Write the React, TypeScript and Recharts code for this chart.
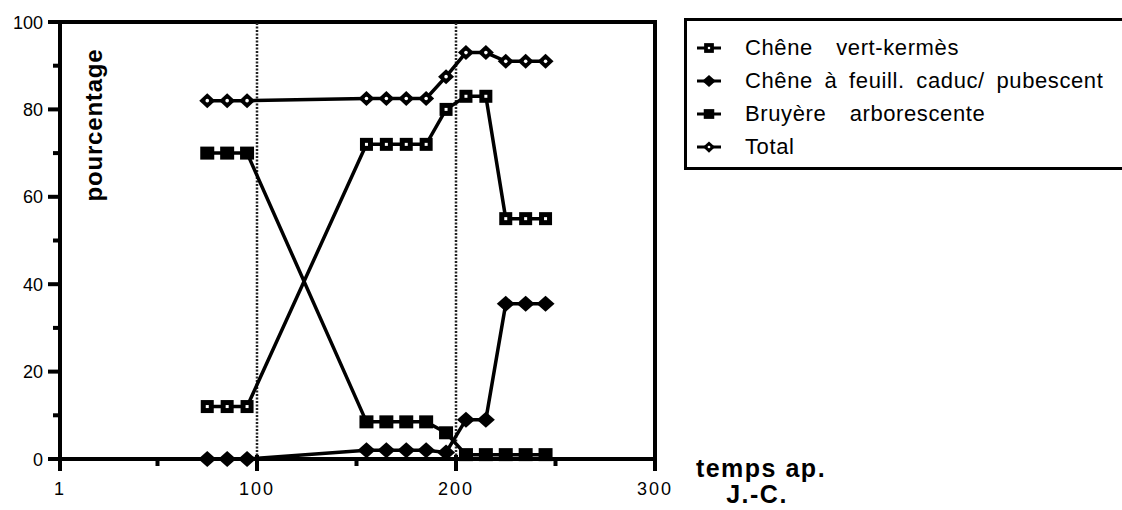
import {
  LineChart,
  Line,
  XAxis,
  YAxis,
  ReferenceLine,
  ReferenceArea,
  Legend,
} from "recharts";

const years = [75, 85, 95, 155, 165, 175, 185, 195, 205, 215, 225, 235, 245];
const cheneVert = [12, 12, 12, 72, 72, 72, 72, 80, 83, 83, 55, 55, 55];
const cheneCaduc = [0, 0, 0, 2, 2, 2, 2, 1.5, 9, 9, 35.5, 35.5, 35.5];
const bruyere = [70, 70, 70, 8.5, 8.5, 8.5, 8.5, 6, 1, 1, 1, 1, 1];
const total = [82, 82, 82, 82.5, 82.5, 82.5, 82.5, 87.5, 93, 93, 91, 91, 91];

const xTicks = [1, 50, 100, 150, 200, 250, 300];
const xMajor = [1, 100, 200, 300];
const yTicks = [0, 10, 20, 30, 40, 50, 60, 70, 80, 90, 100];
const yMajor = [0, 20, 40, 60, 80, 100];
const periods = [100, 200];

const series = [
  { key: "vert", name: "Chêne  vert-kermès", marker: "openSquare" },
  { key: "caduc", name: "Chêne à feuill. caduc/ pubescent", marker: "diamond" },
  { key: "bruyere", name: "Bruyère  arborescente", marker: "square" },
  { key: "total", name: "Total", marker: "dotDiamond" },
];

const data = years.map((year, i) => ({
  year,
  vert: cheneVert[i],
  caduc: cheneCaduc[i],
  bruyere: bruyere[i],
  total: total[i],
}));

const font = "'Liberation Sans', Arial, Helvetica, sans-serif";
const T = 4; // épaisseur du cadre et des graduations

// symbole de chaque série (aussi utilisé dans la légende)
const Marker = ({ kind, cx, cy, s = 1 }) => {
  if (kind === "openSquare") {
    return (
      <g>
        <rect x={cx - 6.5 * s} y={cy - 6.5 * s} width={13 * s} height={13 * s} fill="#000" />
        <rect x={cx - 1.5 * s} y={cy - 1.5 * s} width={3 * s} height={3 * s} fill="#fff" />
      </g>
    );
  }
  if (kind === "square") {
    return <rect x={cx - 7 * s} y={cy - 6.5 * s} width={14 * s} height={13 * s} fill="#000" />;
  }
  if (kind === "diamond") {
    return (
      <polygon
        points={`${cx},${cy - 8 * s} ${cx + 9 * s},${cy} ${cx},${cy + 8 * s} ${cx - 9 * s},${cy}`}
        fill="#000"
      />
    );
  }
  return (
    <g>
      <polygon
        points={`${cx},${cy - 7.5 * s} ${cx + 8 * s},${cy} ${cx},${cy + 7.5 * s} ${cx - 8 * s},${cy}`}
        fill="#000"
      />
      <circle cx={cx} cy={cy} r={1.8 * s} fill="#fff" />
    </g>
  );
};

const renderDot = (kind) => (props) => {
  const { cx, cy, index } = props;
  if (cx == null || cy == null) return <g key={`${kind}-${index}`} />;
  return <Marker key={`${kind}-${index}`} kind={kind} cx={cx} cy={cy} />;
};

// cadre du graphique en rectangles pleins
const Frame = (props) => {
  const { x, y, width, height } = props;
  return (
    <g fill="#000">
      <rect x={x - T / 2} y={y - T / 2} width={width + T} height={T} />
      <rect x={x - T / 2} y={y + height - T / 2} width={width + T} height={T} />
      <rect x={x - T / 2} y={y - T / 2} width={T} height={height + T} />
      <rect x={x + width - T / 2} y={y - T / 2} width={T} height={height + T} />
    </g>
  );
};

const XTick = (props) => {
  const { x, y, payload } = props;
  const major = xMajor.includes(payload.value);
  return (
    <g>
      <rect x={x - T / 2} y={major ? y - 4 : y} width={T} height={major ? 16 : 7} fill="#000" />
      {major && (
        <text x={x} y={y + 36} textAnchor="middle" fontSize={18} letterSpacing={2} fontFamily={font} fill="#000">
          {payload.value}
        </text>
      )}
    </g>
  );
};

const YTick = (props) => {
  const { x, y, payload } = props;
  const major = yMajor.includes(payload.value);
  return (
    <g>
      <rect x={major ? x - 12 : x - 7} y={y - T / 2} width={major ? 12 : 7} height={T} fill="#000" />
      {major && (
        <text x={x - 17} y={y + 6.5} textAnchor="end" fontSize={18} fontFamily={font} fill="#000">
          {payload.value}
        </text>
      )}
    </g>
  );
};

const XLabel = ({ viewBox }) => {
  const cx = viewBox.x + viewBox.width + 106;
  return (
    <g>
      <text x={cx} y={viewBox.y + 18} textAnchor="middle" letterSpacing={1.5}
        fontFamily={font} fontWeight="bold" fontSize={25} fill="#000">
        temps ap.
      </text>
      <text x={cx - 4} y={viewBox.y + 44} textAnchor="middle" letterSpacing={1.5}
        fontFamily={font} fontWeight="bold" fontSize={25} fill="#000">
        J.-C.
      </text>
    </g>
  );
};

const YLabel = () => (
  <text
    x={102}
    y={125}
    transform="rotate(-90 102 125)"
    textAnchor="middle"
    fontFamily={font}
    fontWeight="bold"
    fontSize={24}
    letterSpacing={0.8}
    fill="#000"
  >
    pourcentage
  </text>
);

const LegendBox = () => (
  <div
    style={{
      boxSizing: "border-box",
      width: 438,
      height: 152,
      borderTop: "3px solid #000",
      borderLeft: "3px solid #000",
      borderBottom: "3px solid #000",
      padding: "10px 0 0 8px",
      fontFamily: font,
      fontSize: 22,
      letterSpacing: 0.6,
      wordSpacing: 5,
      color: "#000",
      background: "#fff",
    }}
  >
    {series.map((s) => (
      <div key={s.key} style={{ display: "flex", alignItems: "center", height: 33, whiteSpace: "pre" }}>
        <svg width={30} height={16} style={{ marginRight: 20, flex: "none" }}>
          <rect x={2} y={6.5} width={24} height={3} fill="#000" />
          <Marker kind={s.marker} cx={14} cy={8} s={0.75} />
        </svg>
        <span>{s.name}</span>
      </div>
    ))}
  </div>
);

export default function App() {
  return (
    <div style={{ position: "absolute", left: 0, top: 0, width: 1122, height: 510, overflow: "hidden", background: "#fff" }}>
      <LineChart width={1122} height={510} data={data} margin={{ top: 22, right: 467, bottom: 11, left: 10 }}>
        <ReferenceArea x1={1} x2={300} y1={0} y2={100} shape={Frame} ifOverflow="visible" />
        {periods.map((p) => (
          <ReferenceLine key={p} x={p} stroke="#222" strokeWidth={2.5} strokeDasharray="2 1.5" />
        ))}
        <XAxis
          dataKey="year"
          type="number"
          domain={[1, 300]}
          ticks={xTicks}
          interval={0}
          height={40}
          tickSize={0}
          tickMargin={0}
          tickLine={false}
          tick={XTick}
          axisLine={{ stroke: "#000", strokeWidth: 4 }}
          label={{ content: XLabel }}
        />
        <YAxis
          type="number"
          domain={[0, 100]}
          ticks={yTicks}
          interval={0}
          width={50}
          tickSize={0}
          tickMargin={0}
          tickLine={false}
          tick={YTick}
          axisLine={{ stroke: "#000", strokeWidth: 4 }}
          label={{ content: YLabel }}
        />
        <Legend
          layout="vertical"
          align="center"
          verticalAlign="middle"
          content={LegendBox}
          wrapperStyle={{ position: "absolute", left: 684, top: 18, width: 438, height: 152 }}
        />
        {series.map((s) => (
          <Line
            key={s.key}
            dataKey={s.key}
            name={s.name}
            type="linear"
            stroke="#000"
            strokeWidth={3.5}
            dot={renderDot(s.marker)}
            activeDot={false}
            isAnimationActive={false}
          />
        ))}
      </LineChart>
    </div>
  );
}
